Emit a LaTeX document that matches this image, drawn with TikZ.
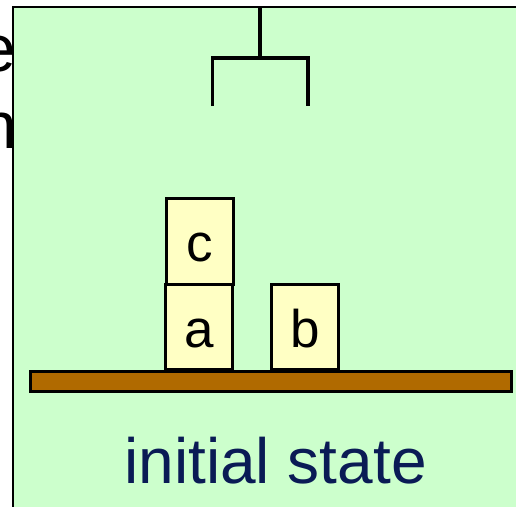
\documentclass[tikz,border=0pt]{standalone}
\usepackage{fontspec}
\setmainfont{Liberation Sans}
\definecolor{panelgreen}{RGB}{204,255,204}
\definecolor{blockyellow}{RGB}{255,255,196}
\definecolor{tablebrown}{RGB}{176,106,0}
\definecolor{captionblue}{RGB}{10,27,85}
\tikzset{
  blockbox/.style={draw=black, line width=3pt, fill=blockyellow,
    minimum width=67pt, minimum height=85.5pt, inner sep=0pt,
    text height=40.5pt, text depth=0pt,
    font=\fontsize{53}{60}\selectfont},
  tablebar/.style={draw=black, line width=3pt, fill=tablebrown,
    minimum width=480.5pt, minimum height=20pt, inner sep=0pt},
  gripper/.style={draw=black, line width=3.8pt},
  backword/.style={inner sep=0pt, font=\fontsize{66}{76}\selectfont, text=black},
}
\begin{document}
\begin{tikzpicture}[x=1pt, y=-1pt]
  \useasboundingbox (0,0) rectangle (516,506);
  \clip (0,0) rectangle (516,506);

  % words of the slide behind the panel
  \node[backword, anchor=base east] (wordE) at (16,71) {e};
  \node[backword, anchor=base east] (wordN) at (17,148) {n};

  % panel
  \fill[panelgreen] (12.8,7.2) rectangle (530,520);
  \draw[line width=2.3pt] (12.8,520) -- (12.8,7.2) -- (530,7.2);

  % gripper hanging from the top
  \coordinate (stemTop) at (260,8);
  \coordinate (stemBot) at (260,58);
  \coordinate (armL) at (212.5,58);
  \coordinate (armR) at (308,58);
  \coordinate (legL) at (212.5,106);
  \coordinate (legR) at (308,106);
  \draw[gripper] (stemTop) -- (stemBot);
  \draw[gripper, line join=miter] (legL) -- (armL) -- (armR) -- (legR);

  % table
  \node[tablebar] (table) at (271,381.2) {};

  % blocks
  \node[blockbox] (blockA) at (199,327) {a};
  \node[blockbox] (blockC) at (200,241.5) {c};
  \node[blockbox] (blockB) at (305,327) {b};

  % caption
  \node[anchor=base, inner sep=0pt, text=captionblue,
        font=\fontsize{64}{72}\selectfont] (caption) at (275.5,483) {initial state};
\end{tikzpicture}
\end{document}
